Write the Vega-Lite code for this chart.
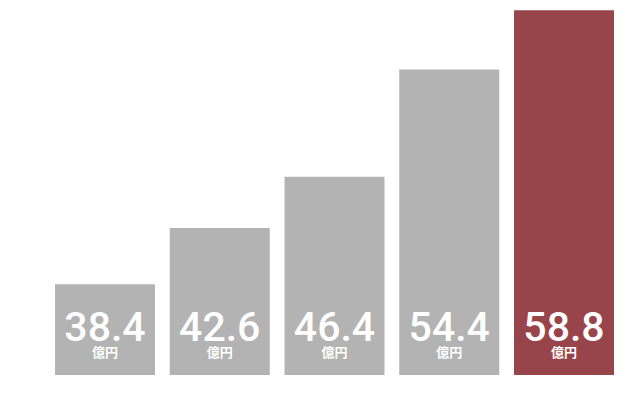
{
  "$schema": "https://vega.github.io/schema/vega-lite/v6.json",
  "width": 559,
  "height": 362,
  "autosize": {"type": "none"},
  "padding": {"left": 55, "top": 13, "right": 22, "bottom": 26},
  "background": "white",
  "config": {"view": {"stroke": null}},
  "data": {
    "values": [
      {"period": "1", "value": 38.4, "highlight": "no"},
      {"period": "2", "value": 42.6, "highlight": "no"},
      {"period": "3", "value": 46.4, "highlight": "no"},
      {"period": "4", "value": 54.4, "highlight": "no"},
      {"period": "5", "value": 58.8, "highlight": "yes"}
    ]
  },
  "encoding": {
    "x": {
      "field": "period",
      "type": "ordinal",
      "sort": null,
      "scale": {"paddingInner": 0.1285, "paddingOuter": 0},
      "axis": null
    }
  },
  "layer": [
    {
      "mark": {"type": "bar", "clip": false},
      "encoding": {
        "y": {
          "field": "value",
          "type": "quantitative",
          "scale": {"domain": [31.65, 58.6], "zero": false, "nice": false},
          "axis": null
        },
        "y2": {"datum": 31.65},
        "color": {
          "field": "highlight",
          "type": "nominal",
          "scale": {"domain": ["no", "yes"], "range": ["#b2b3b2", "#98444b"]},
          "legend": null
        }
      }
    },
    {
      "mark": {
        "type": "text",
        "font": "Roboto",
        "fontSize": 41,
        "fontWeight": 500,
        "color": "white",
        "baseline": "alphabetic",
        "align": "center",
        "dy": -34
      },
      "encoding": {
        "y": {"datum": 31.65, "type": "quantitative"},
        "text": {"field": "value", "type": "quantitative", "format": ".1f"}
      }
    },
    {
      "mark": {
        "type": "text",
        "font": "Noto Sans CJK JP",
        "fontSize": 13,
        "fontWeight": "bold",
        "color": "white",
        "baseline": "middle",
        "align": "center",
        "dy": -22,
        "text": "億円"
      },
      "encoding": {
        "y": {"datum": 31.65, "type": "quantitative"}
      }
    }
  ]
}
